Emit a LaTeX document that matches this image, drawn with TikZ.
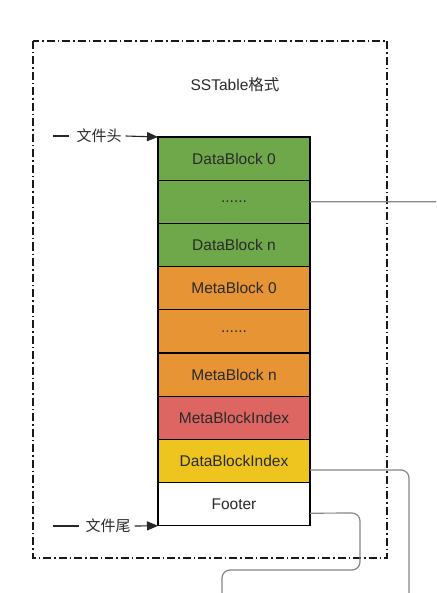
\documentclass[tikz,border=0pt]{standalone}
\usepackage{fontspec}
\setmainfont{Liberation Sans}
\newfontfamily\cjk{Noto Sans CJK SC}
\usetikzlibrary{arrows.meta}
\definecolor{dgreen}{HTML}{6FA84A}
\definecolor{dorange}{HTML}{E69434}
\definecolor{dred}{HTML}{DE6662}
\definecolor{dyellow}{HTML}{EEC41E}
\definecolor{txt}{HTML}{2A2A2A}
\tikzset{
  row/.style={draw=black, line width=1.3pt, minimum width=152pt, minimum height=43.2pt,
    inner sep=0pt, outer sep=0pt, anchor=north west, text=txt, font=\fontsize{15.5}{17}\selectfont},
  conn/.style={draw=gray!95, line width=1.2pt, rounded corners=8pt},
  frame/.style={draw=black!90, line width=1.2pt, dash pattern=on 8pt off 3pt on 1.5pt off 3pt},
  lbl/.style={text=txt, font=\fontsize{15}{17}\selectfont\cjk, inner sep=0pt},
  side/.style={draw=black!85, line width=1.1pt, -{Triangle[length=11pt,width=9pt]}},
}
\begin{document}
\begin{tikzpicture}[x=1pt,y=-1pt]
\useasboundingbox (0,0) rectangle (436,593);
\fill[white] (0,0) rectangle (436,593);
\draw[frame] (33,41) rectangle (387,558);
\node[lbl, font=\fontsize{15.5}{17}\selectfont] (title) at (235,85) {SSTable{\cjk 格式}};

\node[row, fill=dgreen]  (db0) at (158,137.0) {DataBlock 0};
\node[row, fill=dgreen]  (dbd) at (158,180.2) {......};
\node[row, fill=dgreen]  (dbn) at (158,223.4) {DataBlock n};
\node[row, fill=dorange] (mb0) at (158,266.6) {MetaBlock 0};
\node[row, fill=dorange] (mbd) at (158,309.8) {......};
\node[row, fill=dorange] (mbn) at (158,353.0) {MetaBlock n};
\node[row, fill=dred]    (mbi) at (158,396.2) {MetaBlockIndex};
\node[row, fill=dyellow] (dbi) at (158,439.4) {DataBlockIndex};
\node[row, fill=white]   (ft)  at (158,482.6) {Footer};

\node[lbl] (head) at (99,136) {文件头};
\node[lbl] (tail) at (108,526) {文件尾};
\coordinate (hs) at (53,136);
\coordinate (ts) at (53,526);
\draw[draw=black!85, line width=1.1pt] (hs) -- ([xshift=-7pt]head.west);
\draw[side] ([xshift=4pt]head.east) -- (db0.north west);
\draw[draw=black!85, line width=1.1pt] (ts) -- ([xshift=-6pt]tail.west);
\draw[side] ([xshift=4pt]tail.east) -- (ft.south west);

\coordinate (e1) at (436,201.8);
\coordinate (e2) at (409,593);
\coordinate (e3) at (222,593);
\draw[conn] (dbd.east) -- (e1);
\draw[conn] ([yshift=-9pt]dbi.east) -- (409,470) -- (e2);
\draw[conn] ([yshift=-9pt]ft.east) -- (360,513) -- (360,570) -- (222,570) -- (e3);
\end{tikzpicture}
\end{document}
